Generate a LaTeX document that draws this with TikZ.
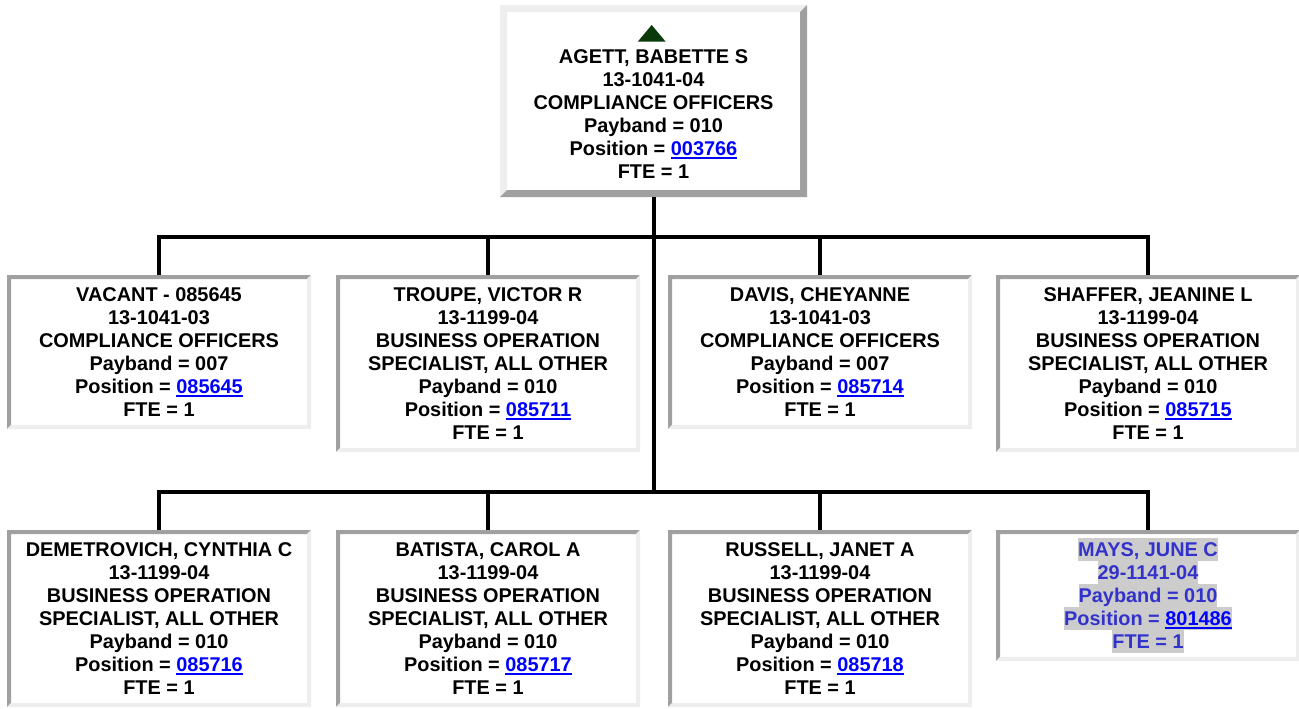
\documentclass[tikz,border=0pt]{standalone}
\usepackage{fontspec}
\setmainfont{Liberation Sans}

\definecolor{bordark}{HTML}{A0A0A0}
\definecolor{borlight}{HTML}{EEEEEE}
\definecolor{linkblue}{HTML}{0000FF}
\definecolor{maysblue}{HTML}{3333CC}
\definecolor{hlgray}{HTML}{CCCCCC}
\definecolor{upgreen}{HTML}{0A3A0A}

% blue underlined position number
\newcommand{\poslink}[1]{\textcolor{linkblue}{\setbox0\hbox{#1}\rlap{\rule[-3.2pt]{\wd0}{2pt}}\box0}}
% grey highlighted line
\newcommand{\hlline}[1]{{\fboxsep=0pt\colorbox{hlgray}{\rule[-4.5pt]{0pt}{23pt}#1}}}
% bevelled frame: #1 top/left colour, #2 bottom/right colour, #3 width
\def\bb{path picture bounding box}
\newcommand{\bevel}[3]{%
  \fill[#1] (\bb.south west) -- (\bb.north west) -- (\bb.north east)
    -- ([shift={(-#3,-#3)}]\bb.north east) -- ([shift={(#3,-#3)}]\bb.north west)
    -- ([shift={(#3,#3)}]\bb.south west) -- cycle;
  \fill[#2] (\bb.south west) -- (\bb.south east) -- (\bb.north east)
    -- ([shift={(-#3,-#3)}]\bb.north east) -- ([shift={(-#3,#3)}]\bb.south east)
    -- ([shift={(#3,#3)}]\bb.south west) -- cycle;}

\begin{document}
\begin{tikzpicture}[
    x=1pt, y=1pt,
    every node/.style={font={\fontsize{19.9}{23}\selectfont\bfseries}, align=center, inner sep=0pt},
    head/.style={fill=white, anchor=north, minimum width=307, minimum height=192,
        path picture={\bevel{borlight}{bordark}{7}}},
    card/.style={fill=white, anchor=north, minimum width=304, minimum height=23*#1+16,
        path picture={\bevel{bordark}{borlight}{4}}},
    link/.style={draw=black, line width=4pt},
]

% ---- Layout ----
\def\rowone{-275}
\def\rowtwo{-530}
\def\colA{159}
\def\colB{488}
\def\colC{820}
\def\colD{1148}

\path[use as bounding box] (0,0) rectangle (1299,-709);

% ---- Head ----
\node[head] (agett) at (653.5,-5) {\rule{0pt}{16.7pt}\\AGETT, BABETTE S\\13-1041-04\\COMPLIANCE OFFICERS\\Payband = 010\\Position = \poslink{003766}\\FTE = 1};
\fill[upgreen] ([shift={(-1.8,-20)}]agett.north) -- ++(14,-16.7) -- ++(-28,0) -- cycle;

% ---- First row ----
\node[card=6] (vacant) at (\colA,\rowone) {VACANT - 085645\\13-1041-03\\COMPLIANCE OFFICERS\\Payband = 007\\Position = \poslink{085645}\\FTE = 1};
\node[card=7] (troupe) at (\colB,\rowone) {TROUPE, VICTOR R\\13-1199-04\\BUSINESS OPERATION\\SPECIALIST, ALL OTHER\\Payband = 010\\Position = \poslink{085711}\\FTE = 1};
\node[card=6] (davis) at (\colC,\rowone) {DAVIS, CHEYANNE\\13-1041-03\\COMPLIANCE OFFICERS\\Payband = 007\\Position = \poslink{085714}\\FTE = 1};
\node[card=7] (shaffer) at (\colD,\rowone) {SHAFFER, JEANINE L\\13-1199-04\\BUSINESS OPERATION\\SPECIALIST, ALL OTHER\\Payband = 010\\Position = \poslink{085715}\\FTE = 1};

% ---- Second row ----
\node[card=7] (demetrovich) at (\colA,\rowtwo) {DEMETROVICH, CYNTHIA C\\13-1199-04\\BUSINESS OPERATION\\SPECIALIST, ALL OTHER\\Payband = 010\\Position = \poslink{085716}\\FTE = 1};
\node[card=7] (batista) at (\colB,\rowtwo) {BATISTA, CAROL A\\13-1199-04\\BUSINESS OPERATION\\SPECIALIST, ALL OTHER\\Payband = 010\\Position = \poslink{085717}\\FTE = 1};
\node[card=7] (russell) at (\colC,\rowtwo) {RUSSELL, JANET A\\13-1199-04\\BUSINESS OPERATION\\SPECIALIST, ALL OTHER\\Payband = 010\\Position = \poslink{085718}\\FTE = 1};
\node[card=5, text=maysblue] (mays) at (\colD,\rowtwo) {\hlline{MAYS, JUNE C}\\\hlline{29-1141-04}\\\hlline{Payband = 010}\\\hlline{Position = \poslink{801486}}\\\hlline{FTE = 1}};

% ---- Connectors ----
\coordinate (busone) at (653.5,-237);
\coordinate (bustwo) at (653.5,-492);
\draw[link] (agett.south) -- (bustwo);
\foreach \n in {vacant,troupe,davis,shaffer}
    \draw[link] (busone) -| (\n.north);
\foreach \n in {demetrovich,batista,russell,mays}
    \draw[link] (bustwo) -| (\n.north);

\end{tikzpicture}
\end{document}
